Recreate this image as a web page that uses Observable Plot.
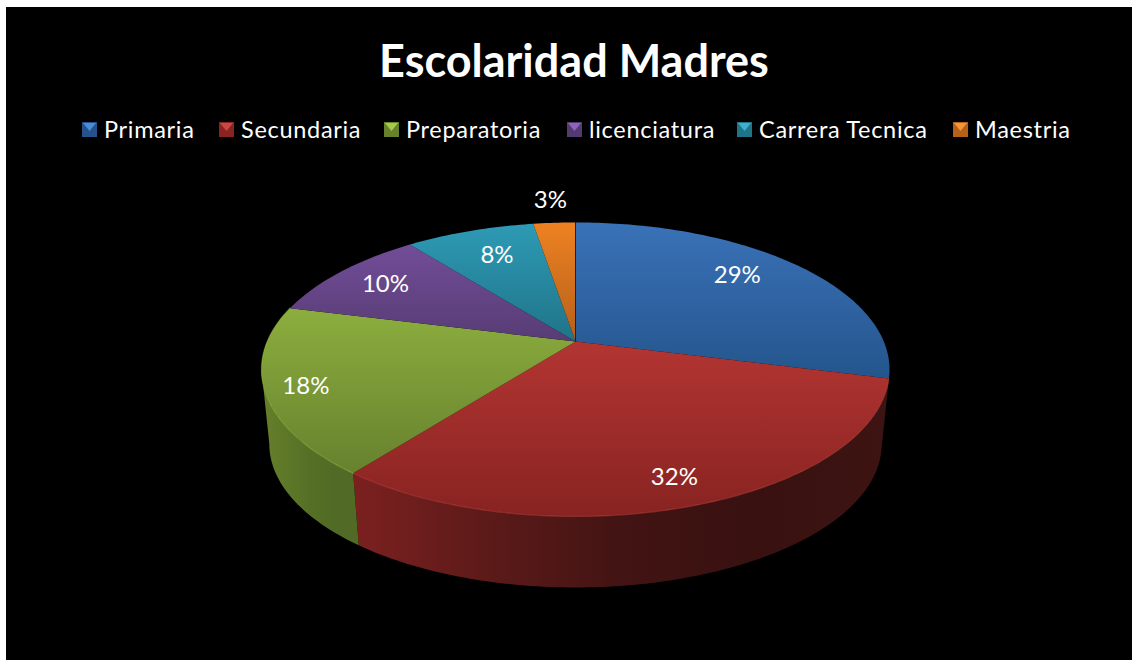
<!DOCTYPE html>
<html>
<head>
<meta charset="utf-8">
<script src="https://cdn.jsdelivr.net/npm/d3@7"></script>
<script src="https://cdn.jsdelivr.net/npm/@observablehq/plot@0.6"></script>
<style>
  html, body { margin: 0; padding: 0; background: #fff; overflow: hidden; }
  #frame { position: absolute; left: 6px; top: 7px; width: 1126px; height: 653px; background: #000; color: #fff; font-family: Lato, sans-serif; }
  #title { position: absolute; left: 0; width: 1136px; top: 26px; text-align: center; font-size: 45px; line-height: 54px; font-weight: 700; }
  #legend { position: absolute; left: 76px; top: 106px; height: 32px; font-size: 23.5px; letter-spacing: 0.7px; white-space: nowrap; }
  #legend .item { display: flex; align-items: center; position: absolute; top: 0; height: 32px; }
  #legend svg { display: block; margin-right: 7px; }
  #chart { position: absolute; left: 0; top: 158px; }
  #chart svg { display: block; background: transparent; }
</style>
</head>
<body>
<div id="frame">
  <div id="title"></div>
  <div id="legend"></div>
  <div id="chart"></div>
</div>
<script>
const titleText = "Escolaridad Madres";
const categories = ["Primaria", "Secundaria", "Preparatoria", "licenciatura", "Carrera Tecnica", "Maestria"];
const shares = [29, 31.5, 18.45, 10.45, 8, 2.6];
const labels = ["29%", "32%", "18%", "10%", "8%", "3%"];

const topLight = ["#3a72b8", "#b33532", "#8cae3e", "#724d98", "#2e9ab5", "#ee8222"];
const topDark = ["#24558c", "#872321", "#67812e", "#573c74", "#1f7488", "#b45f1b"];
const legendBase = ["#24528a", "#8a2422", "#68812c", "#523b70", "#1f7488", "#b56118"];
const legendLight = ["#4a8cd8", "#cc4744", "#a3cc48", "#8e63c0", "#3db0d0", "#f69636"];
const wallStops = {
  1: ["#7b2120", "#5c1a19", "#421413", "#381110", "#3d1412"],
  2: ["#657f2c", "#5e7829", "#557026", "#516a25", "#516a25"]
};
const labelRadius = [0.77, 0.855, 0.877, 0.796, 0.744, 1.231];
const labelTurn = [-3.8, 0.4, -0.8, 0, 1, 0];

// Perspective of the tilted disc, in unit-circle coordinates
const tilt = -0.19;
const project = (u, v) => ({X: u / (1 + tilt * v), Y: v / (1 + tilt * v)});
const floorScale = 0.975;
const floorDrop = 0.532;
// Angle at which the disc's left silhouette is reached (v = -tilt)
const silhouette = 180 + Math.acos(-tilt) * 180 / Math.PI;
const rim = (deg, r = 1) => {
  const a = deg * Math.PI / 180;
  return project(r * Math.sin(a), -r * Math.cos(a));
};
const lower = (p) => ({X: p.X * floorScale, Y: p.Y * floorScale + floorDrop});

const total = d3.sum(shares);
let run = 0;
const slices = categories.map((name, i) => {
  const start = run / total * 360;
  run += shares[i];
  const end = run / total * 360;
  return {name, i, start, end, mid: (start + end) / 2};
});
const arc = (s, end = s.end) => {
  const n = Math.max(2, Math.ceil(end - s.start));
  return d3.range(n + 1).map((k) => s.start + (end - s.start) * k / n);
};
const topPolygon = (s) => [project(0, 0), ...arc(s).map((d) => rim(d))];
const wallPolygon = (s) => {
  const top = arc(s, Math.min(s.end, silhouette)).map((d) => rim(d));
  return [...top, ...top.slice().reverse().map(lower)];
};

const defs = () => {
  const svg = d3.create("svg:defs");
  slices.forEach((s, i) => {
    const g = svg.append("linearGradient").attr("id", `top${i}`).attr("x1", 0).attr("y1", 0).attr("x2", 0).attr("y2", 1);
    g.append("stop").attr("offset", 0).attr("stop-color", topLight[i]);
    g.append("stop").attr("offset", 1).attr("stop-color", topDark[i]);
  });
  Object.entries(wallStops).forEach(([i, stops]) => {
    const g = svg.append("linearGradient").attr("id", `wall${i}`).attr("x1", 0).attr("y1", 0).attr("x2", 1).attr("y2", 0);
    stops.forEach((c, k) => g.append("stop").attr("offset", k / (stops.length - 1)).attr("stop-color", c));
  });
  return svg.node();
};

const walls = slices.filter((s) => wallStops[s.i]);
const marks = [
  defs,
  ...walls.map((s) => Plot.line(wallPolygon(s), {x: "X", y: "Y", fill: `url(#wall${s.i})`, stroke: "none", curve: "linear-closed"})),
  ...slices.map((s) => Plot.line(topPolygon(s), {x: "X", y: "Y", fill: `url(#top${s.i})`, stroke: "none", curve: "linear-closed"})),
  ...walls.map((s) => Plot.line(arc(s).map((d) => rim(d)), {x: "X", y: "Y", stroke: legendLight[s.i], strokeOpacity: 0.45, strokeWidth: 1.2})),
  Plot.line([project(0, 0), rim(0)], {x: "X", y: "Y", stroke: "#12233a", strokeWidth: 1}),
  Plot.text(slices, {
    x: (s) => rim(s.mid + labelTurn[s.i], labelRadius[s.i]).X,
    y: (s) => rim(s.mid + labelTurn[s.i], labelRadius[s.i]).Y,
    text: (s) => labels[s.i],
    fill: "#fff",
    fontSize: 24,
    fontFamily: "Lato, sans-serif",
    textAnchor: "middle",
    lineAnchor: "middle"
  })
];

const plot = Plot.plot({
  width: 1126,
  height: 495,
  margin: 0,
  style: {background: "transparent", overflow: "visible"},
  x: {domain: [-1, 1], range: [260.7, 877.3], axis: null},
  y: {domain: [-1, 1], range: [34.3, 317.7], axis: null},
  marks
});
document.getElementById("chart").appendChild(plot);

document.getElementById("title").textContent = titleText;

// Legend with bevelled swatches
const legendLeft = [0, 137, 302, 485, 655, 871];
const legend = d3.select("#legend");
categories.forEach((name, i) => {
  const item = legend.append("div").attr("class", "item").style("left", legendLeft[i] + "px");
  const sw = item.append("svg").attr("width", 15).attr("height", 15);
  sw.append("rect").attr("width", 15).attr("height", 15).attr("fill", legendBase[i]);
  sw.append("polygon").attr("points", "1,1 14,1 7.5,9").attr("fill", legendLight[i]);
  item.append("span").text(name);
});
</script>
</body>
</html>
